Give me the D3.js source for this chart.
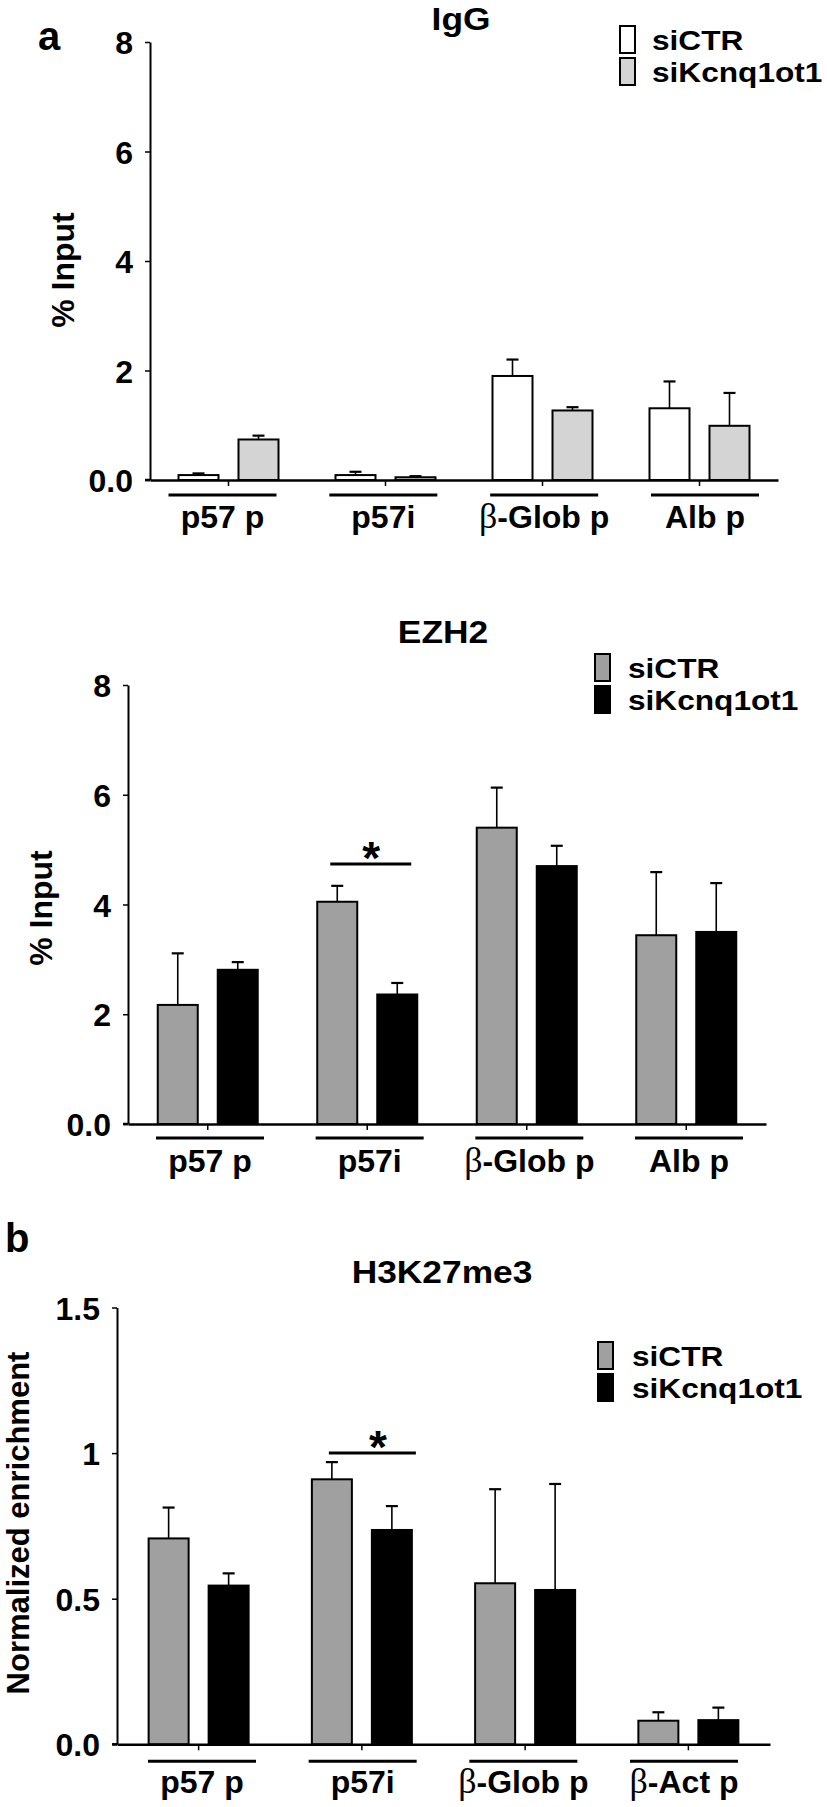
<!DOCTYPE html>
<html><head><meta charset="utf-8">
<script src="https://cdn.jsdelivr.net/npm/d3@7"></script>
<style>
body{margin:0;background:#fff}
svg{display:block}
text{font-family:"Liberation Sans",Arial,sans-serif;font-weight:bold;fill:#000}
</style>
</head><body>
<svg id="c" width="827" height="1807"></svg>
<script>
// ---------------- DATA ----------------
const seriesNames = ["siCTR", "siKcnq1ot1"];
const categoriesA = ["p57 p", "p57i", "β-Glob p", "Alb p"];
const categoriesB = ["p57 p", "p57i", "β-Glob p", "β-Act p"];

// IgG (% Input)
const iggCtr      = [0.09, 0.09, 1.90, 1.31];
const iggCtrErr   = [0.03, 0.06, 0.30, 0.49];
const iggKd       = [0.74, 0.05, 1.27, 0.99];
const iggKdErr    = [0.07, 0.02, 0.06, 0.60];

// EZH2 (% Input)
const ezh2Ctr     = [2.17, 4.05, 5.40, 3.44];
const ezh2CtrErr  = [0.94, 0.29, 0.73, 1.15];
const ezh2Kd      = [2.81, 2.36, 4.70, 3.50];
const ezh2KdErr   = [0.14, 0.21, 0.37, 0.89];

// H3K27me3 (Normalized enrichment)
const h3Ctr       = [0.707, 0.910, 0.553, 0.081];
const h3CtrErr    = [0.106, 0.059, 0.323, 0.029];
const h3Kd        = [0.545, 0.736, 0.530, 0.083];
const h3KdErr     = [0.042, 0.082, 0.364, 0.043];

// Axis ticks
const ticksPct       = [0, 2, 4, 6, 8];
const tickLabelsPct  = ["0.0", "2", "4", "6", "8"];
const ticksNorm      = [0, 0.5, 1, 1.5];
const tickLabelsNorm = ["0.0", "0.5", "1", "1.5"];

// Significance markers
const sigEZH2 = {category: "p57i", y: 4.74, label: "*"};
const sigH3   = {category: "p57i", y: 1.0,  label: "*"};

// ---------------- DRAWING ----------------
const svg = d3.select("#c");

function labelText(sel, s) {
  sel.text(null);
  if (s.startsWith("β")) {
    sel.append("tspan").attr("font-family", "'Liberation Serif','DejaVu Serif',serif")
      .attr("font-weight", "normal").attr("font-size", "36px").text("β");
    sel.append("tspan").text(s.slice(1));
  } else sel.text(s);
}

function drawPanel(cfg) {
  const g = svg.append("g");
  const x = d3.scaleBand().domain(cfg.categories).range([cfg.left, cfg.right]);
  const xs = d3.scaleBand().domain(seriesNames).range([-50, 50]).paddingInner(1/3);
  const y = d3.scaleLinear().domain(cfg.domain).range([cfg.bottom, cfg.top]);
  const xl = d3.scalePoint().domain(cfg.categories).range(cfg.labelRange);

  const data = cfg.categories.flatMap((c, i) => seriesNames.map((s, j) =>
    ({c, s, j, v: cfg.values[j][i], e: cfg.errors[j][i]})));
  const bx = d => x(d.c) + x.bandwidth() / 2 + xs(d.s);

  // error bars
  const eg = g.append("g").attr("stroke", "#000").attr("stroke-width", 1.6);
  eg.selectAll("line.v").data(data).join("line")
    .attr("x1", d => bx(d) + xs.bandwidth() / 2).attr("x2", d => bx(d) + xs.bandwidth() / 2)
    .attr("y1", d => y(d.v)).attr("y2", d => y(d.v + d.e));
  eg.selectAll("line.h").data(data).join("line")
    .attr("x1", d => bx(d) + xs.bandwidth() / 2 - 6).attr("x2", d => bx(d) + xs.bandwidth() / 2 + 6)
    .attr("y1", d => y(d.v + d.e)).attr("y2", d => y(d.v + d.e)).attr("stroke-width", 2.2);

  // bars
  g.selectAll("rect.bar").data(data).join("rect")
    .attr("x", bx).attr("width", xs.bandwidth())
    .attr("y", d => y(d.v)).attr("height", d => y(0) - y(d.v))
    .attr("fill", d => cfg.fills[d.j]).attr("stroke", "#000").attr("stroke-width", 2);

  // y axis
  const ya = d3.axisLeft(y).tickValues(cfg.ticks).tickFormat((d, i) => cfg.tickLabels[i])
    .tickSize(5).tickSizeOuter(0).tickPadding(12);
  const yg = g.append("g").attr("transform", `translate(${cfg.left},0)`).call(ya);
  yg.attr("font-size", null).attr("font-family", null);
  yg.select(".domain").attr("stroke-width", 2);
  yg.selectAll(".tick line").attr("stroke-width", 1.5);
  yg.selectAll(".tick text").attr("font-size", "32px").attr("dy", "0.36em");

  // x axis
  const xa = d3.axisBottom(x).tickSize(6).tickSizeOuter(0).tickFormat("");
  const xg = g.append("g").attr("transform", `translate(0,${cfg.bottom})`).call(xa);
  xg.select(".domain").attr("stroke-width", 2.5);
  xg.selectAll(".tick line").attr("stroke-width", 1.5);
  g.append("line").attr("x1", cfg.left - 5).attr("x2", cfg.left)
    .attr("y1", cfg.bottom).attr("y2", cfg.bottom).attr("stroke", "#000").attr("stroke-width", 2.5);

  // underlines + labels
  g.selectAll("line.ul").data(cfg.categories).join("line")
    .attr("x1", d => xl(d) - 54).attr("x2", d => xl(d) + 54)
    .attr("y1", cfg.bottom + cfg.ulOff).attr("y2", cfg.bottom + cfg.ulOff)
    .attr("stroke", "#000").attr("stroke-width", 3);
  g.selectAll("text.cat").data(cfg.categories).join("text")
    .attr("x", d => xl(d)).attr("y", cfg.bottom + cfg.lblOff)
    .attr("text-anchor", "middle").attr("font-size", "32px")
    .each(function(d) { labelText(d3.select(this), d); });

  // title
  g.append("text").attr("transform", `translate(${cfg.titleX},${cfg.titleY}) scale(1.14,1)`)
    .attr("text-anchor", "middle").attr("font-size", "31px").text(cfg.title);

  // y label
  g.append("text").attr("transform", `translate(${cfg.yLabelX},${cfg.yLabelY}) rotate(-90)`)
    .attr("text-anchor", "middle").attr("font-size", cfg.yLabelSize || "32px").text(cfg.yLabel);

  // legend
  const lg = g.append("g");
  seriesNames.forEach((s, j) => {
    const L = cfg.legend;
    const by = L.y + j * 32;
    lg.append("rect").attr("x", L.bx).attr("y", by).attr("width", 15).attr("height", 27)
      .attr("fill", cfg.fills[j]).attr("stroke", "#000").attr("stroke-width", 2);
    lg.append("text").attr("transform", `translate(${L.tx},${by + 24}) scale(1.13,1)`)
      .attr("font-size", "28px").text(s);
  });

  // significance
  if (cfg.sig) {
    const cx = x(cfg.sig.category) + x.bandwidth() / 2;
    g.append("line").attr("x1", cx + cfg.sigSpan[0]).attr("x2", cx + cfg.sigSpan[1])
      .attr("y1", y(cfg.sig.y)).attr("y2", y(cfg.sig.y)).attr("stroke", "#000").attr("stroke-width", 3);
    g.append("text").attr("x", cx + cfg.sigStarDx).attr("y", y(cfg.sig.y) + cfg.sigStarDy)
      .attr("text-anchor", "middle").attr("font-size", "46px").text(cfg.sig.label);
  }

  // panel letter
  if (cfg.letter) {
    g.append("text").attr("x", cfg.letter.x).attr("y", cfg.letter.y)
      .attr("font-size", "40px").text(cfg.letter.t);
  }
}

drawPanel({
  categories: categoriesA, values: [iggCtr, iggKd], errors: [iggCtrErr, iggKdErr],
  fills: ["#ffffff", "#d4d4d4"], domain: [0, 8], ticks: ticksPct, tickLabels: tickLabelsPct,
  left: 150, right: 778, top: 42, bottom: 480, labelRange: [222.5, 705], ulOff: 15, lblOff: 48,
  title: "IgG", titleX: 461, titleY: 30, yLabel: "% Input", yLabelX: 74, yLabelY: 270,
  legend: {bx: 620, y: 26, tx: 652},
  letter: {x: 38, y: 50, t: "a"}
});

drawPanel({
  categories: categoriesA, values: [ezh2Ctr, ezh2Kd], errors: [ezh2CtrErr, ezh2KdErr],
  fills: ["#a0a0a0", "#000000"], domain: [0, 8], ticks: ticksPct, tickLabels: tickLabelsPct,
  left: 128, right: 766, top: 685, bottom: 1124, labelRange: [210, 689], ulOff: 14, lblOff: 48,
  title: "EZH2", titleX: 443, titleY: 643, yLabel: "% Input", yLabelX: 52, yLabelY: 908,
  legend: {bx: 595, y: 654, tx: 628},
  sig: sigEZH2, sigSpan: [-37, 44], sigStarDx: 4, sigStarDy: 10
});

drawPanel({
  categories: categoriesB, values: [h3Ctr, h3Kd], errors: [h3CtrErr, h3KdErr],
  fills: ["#a0a0a0", "#000000"], domain: [0, 1.5], ticks: ticksNorm, tickLabels: tickLabelsNorm,
  left: 117, right: 770, top: 1307.5, bottom: 1744.3, labelRange: [202, 684], ulOff: 17, lblOff: 49,
  title: "H3K27me3", titleX: 442, titleY: 1283, yLabel: "Normalized enrichment", yLabelX: 29, yLabelY: 1523,
  yLabelSize: "31px",
  legend: {bx: 598, y: 1342, tx: 632},
  sig: sigH3, sigSpan: [-33, 54], sigStarDx: 16, sigStarDy: 10,
  letter: {x: 5, y: 1252, t: "b"}
});
</script>
</body></html>
